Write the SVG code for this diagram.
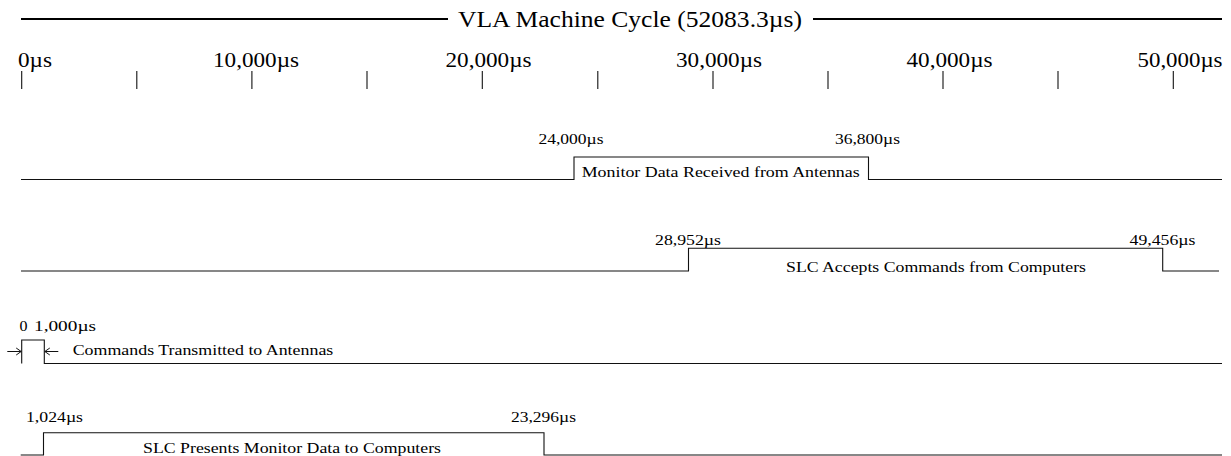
<svg xmlns="http://www.w3.org/2000/svg" width="1231" height="456" viewBox="0 0 1231 456">
  <style>
    text { font-family: "Liberation Serif", "Times New Roman", serif; fill: #000; }
    .title { font-size: 24px; }
    .tick { font-size: 21px; }
    .lbl { font-size: 14px; }
    .txt { font-size: 14px; }
    .wave { fill: none; stroke: #111; stroke-width: 1.1; }
    .tk { stroke: #111; stroke-width: 1.1; }
    .hdr { stroke: #000; stroke-width: 2; }
  </style>
  <defs>
    <marker id="arr" markerUnits="userSpaceOnUse" markerWidth="8" markerHeight="9" refX="6" refY="4.5" orient="auto">
      <path d="M1,1 L6,4.5 L1,8" fill="none" stroke="#111" stroke-width="1"/>
    </marker>
  </defs>
  <rect width="1231" height="456" fill="#fff"/>

  <g id="title">
    <line class="hdr" x1="21" y1="19" x2="448" y2="19"/>
    <line class="hdr" x1="813" y1="19" x2="1222" y2="19"/>
    <text class="title" x="458" y="27" textLength="344" lengthAdjust="spacingAndGlyphs">VLA Machine Cycle (52083.3µs)</text>
  </g>

  <g id="axis">
    <text class="tick" x="18" y="67" textLength="34" lengthAdjust="spacingAndGlyphs">0µs</text>
    <text class="tick" x="213" y="67" textLength="86" lengthAdjust="spacingAndGlyphs">10,000µs</text>
    <text class="tick" x="445.5" y="67" textLength="86" lengthAdjust="spacingAndGlyphs">20,000µs</text>
    <text class="tick" x="676" y="67" textLength="86" lengthAdjust="spacingAndGlyphs">30,000µs</text>
    <text class="tick" x="906.5" y="67" textLength="86" lengthAdjust="spacingAndGlyphs">40,000µs</text>
    <text class="tick" x="1137.5" y="67" textLength="85" lengthAdjust="spacingAndGlyphs">50,000µs</text>
    <line class="tk" x1="21.7" y1="71" x2="21.7" y2="89"/>
    <line class="tk" x1="136.8" y1="71" x2="136.8" y2="89"/>
    <line class="tk" x1="251.9" y1="71" x2="251.9" y2="89"/>
    <line class="tk" x1="367" y1="71" x2="367" y2="89"/>
    <line class="tk" x1="482.3" y1="71" x2="482.3" y2="89"/>
    <line class="tk" x1="597.8" y1="71" x2="597.8" y2="89"/>
    <line class="tk" x1="713" y1="71" x2="713" y2="89"/>
    <line class="tk" x1="828" y1="71" x2="828" y2="89"/>
    <line class="tk" x1="943" y1="71" x2="943" y2="89"/>
    <line class="tk" x1="1058" y1="71" x2="1058" y2="89"/>
    <line class="tk" x1="1173.3" y1="71" x2="1173.3" y2="89"/>
  </g>

  <g id="wave-monitor-received">
    <path class="wave" d="M21,179.5 H574 V157 H868.5 V179.5 H1222"/>
    <text class="lbl" x="538.5" y="144" textLength="65" lengthAdjust="spacingAndGlyphs">24,000µs</text>
    <text class="lbl" x="835" y="144" textLength="65" lengthAdjust="spacingAndGlyphs">36,800µs</text>
    <text class="txt" x="581.7" y="176.5" textLength="278" lengthAdjust="spacingAndGlyphs">Monitor Data Received from Antennas</text>
  </g>

  <g id="wave-slc-accepts">
    <path class="wave" d="M21,271 H688.5 V248.3 H1162.7 V271 H1219"/>
    <text class="lbl" x="655" y="245" textLength="66" lengthAdjust="spacingAndGlyphs">28,952µs</text>
    <text class="lbl" x="1129.5" y="245" textLength="66" lengthAdjust="spacingAndGlyphs">49,456µs</text>
    <text class="txt" x="786" y="272" textLength="300" lengthAdjust="spacingAndGlyphs">SLC Accepts Commands from Computers</text>
  </g>

  <g id="wave-commands-transmitted">
    <path class="wave" d="M21.7,363.5 V340 H44.3 V363.5 H1222"/>
    <text class="lbl" x="19.5" y="331" textLength="8" lengthAdjust="spacingAndGlyphs">0</text>
    <text class="lbl" x="34" y="331" textLength="62" lengthAdjust="spacingAndGlyphs">1,000µs</text>
    <text class="txt" x="72.7" y="355" textLength="260.6" lengthAdjust="spacingAndGlyphs">Commands Transmitted to Antennas</text>
  </g>

  <g id="wave-slc-presents">
    <path class="wave" d="M20.7,455 H43.5 V432.7 H544 V455 H1222"/>
    <text class="lbl" x="26" y="422" textLength="57" lengthAdjust="spacingAndGlyphs">1,024µs</text>
    <text class="lbl" x="511" y="422" textLength="65" lengthAdjust="spacingAndGlyphs">23,296µs</text>
    <text class="txt" x="143" y="452.5" textLength="298" lengthAdjust="spacingAndGlyphs">SLC Presents Monitor Data to Computers</text>
  </g>

  <g id="connectors">
    <line x1="7.3" y1="351.5" x2="21.2" y2="351.5" stroke="#111" stroke-width="1" marker-end="url(#arr)"/>
    <line x1="58.3" y1="351.5" x2="44.8" y2="351.5" stroke="#111" stroke-width="1" marker-end="url(#arr)"/>
  </g>
</svg>
